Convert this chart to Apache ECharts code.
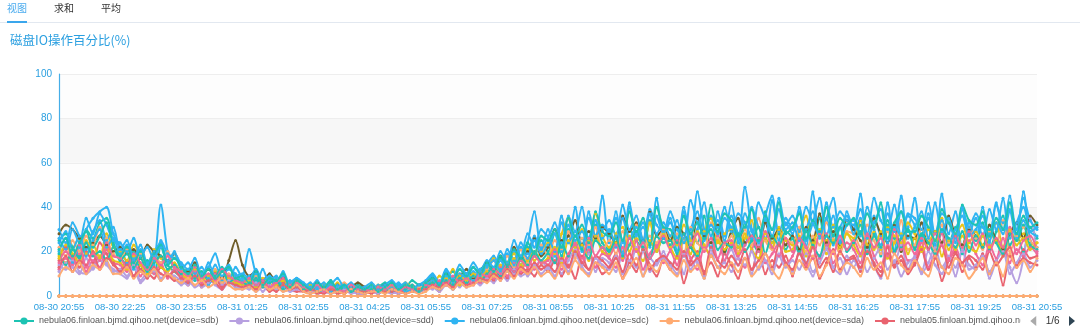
<!DOCTYPE html>
<html><head><meta charset="utf-8">
<script src="https://cdn.jsdelivr.net/npm/echarts@6/dist/echarts.min.js"></script>
<style>html,body{margin:0;padding:0;background:#fff}#c{width:1080px;height:330px}</style>
</head><body><div id="c"></div>
<script>
// time axis: 08-30 20:55 .. 08-31 20:55, one point every 10 minutes (145 points)
const startTime = '2023-08-30T20:55:00';
const stepMinutes = 10;
const pointCount = 145;
const tabLabels = ['视图', '求和', '平均'];
const chartTitle = '磁盘IO操作百分比(%)';
const hosts = ['nebula06', 'nebula05', 'nebula04', 'nebula03', 'nebula02', 'nebula01'];
const devices = ['sdb', 'sdd', 'sdc', 'sda'];

// ---- nebula06 ----
const n06_sdb = [25,28,22,18,30,26,33,35,24, 18,14,20,12,16,10,22,14,11, 9,12,7,10,6,8,11,7,5, 6,4,7,5,8,4,6,3,5, 3,5,2,4,6,3,2,4,5, 3,2,4,6,3,5,4,7,5, 6,9,5,8,11,7,10,8,12, 14,10,17,13,20,16,22,18,25, 20,28,18,30,22,26,19,32,24, 21,27,19,30,25,22,34,20,26, 23,31,18,28,24,36,21,27,19, 29,22,33,25,20,38,24,28,21, 26,19,30,23,35,22,27,31,20, 24,32,21,28,18,34,26,22,30, 22,27,35,20,29,24,31,19,28, 25,33,21,29,36,23,27,20,31, 26];
const n06_sdd = [14,12,16,11,10,13,18,15,12, 10,8,13,6,9,11,7,10,8, 5,7,4,6,8,5,3,6,4, 3,5,2,4,3,6,2,3,4, 2,3,1,2,4,2,3,1,2, 1,2,3,2,1,3,2,4,3, 4,3,6,5,8,4,7,6,9, 8,11,7,12,10,14,9,13,16, 12,18,10,16,21,14,19,11,17, 15,11,19,13,22,9,17,14,20, 12,18,10,24,15,8,19,13,16, 21,14,17,10,23,16,12,19,15, 11,20,15,9,18,22,13,17,10, 16,12,21,14,8,19,15,23,12, 18,10,15,22,13,17,9,20,14, 12,19,8,16,21,13,6,17,35, 20];
const n06_sdc = [20,26,15,22,30,35,38,40,28, 22,15,12,18,9,14,41,20,12, 10,6,13,8,5,11,7,9,6, 8,21,10,5,7,4,9,3,6, 4,2,5,3,7,2,4,3,2, 2,4,1,3,2,5,3,2,4, 5,8,4,7,3,9,6,11,8, 12,9,16,11,20,14,24,38,22, 30,18,36,24,40,20,35,27,45, 24,38,19,42,28,33,22,44,26, 35,20,40,25,47,30,22,38,27, 42,24,49,30,21,36,45,25,33, 28,40,22,47,26,35,44,24,38, 30,46,22,36,27,42,20,38,31, 44,25,35,23,46,28,38,21,33, 26,40,24,42,30,45,27,47,25, 22];
const n06_sda = [0,0,0,0,0,0,0,0,0,0, 0,0,0,0,0,0,0,0,0,0, 0,0,0,0,0,0,0,0,0,
 0,0,0,0,0,0,0,0,0,0, 0,0,0,0,0,0,0,0,0,0, 0,0,0,0,0,0,0,0,0,
 0,0,0,0,0,0,0,0,0,0, 0,0,0,0,0,0,0,0,0,0, 0,0,0,0,0,0,0,0,0,
 0,0,0,0,0,0,0,0,0,0, 0,0,0,0,0,0,0,0,0,0, 0,0,0,0,0,0,0,0,0,
 0,0,0,0,0,0,0,0,0,0, 0,0,0,0,0,0,0,0,0,0, 0,0,0,0,0,0,0,0,0];
// ---- nebula05 ----
const n05_sdb = [16,22,18,13,20,15,24,19,14, 12,16,9,14,11,8,13,10,7, 8,5,9,4,7,6,3,8,5, 4,6,3,5,2,4,6,3,2, 2,3,1,2,3,1,2,4,1, 1,2,1,3,2,1,2,3,2, 3,5,2,6,4,7,5,8,6, 9,7,11,8,13,10,12,9,14, 11,16,9,14,8,18,12,15,10, 13,19,8,15,11,21,14,9,17, 12,18,6,16,20,11,15,9,19, 14,8,17,12,22,10,16,13,18, 9,20,13,17,8,15,21,12,16, 18,11,23,14,9,19,13,16,10, 15,22,12,18,7,16,20,11,17, 13,19,10,16,5,18,14,21,17, 18];
const n05_sdd = [18,15,21,26,19,23,17,28,22, 20,16,23,18,13,21,17,15,19, 12,9,14,10,8,11,6,9,7, 5,7,4,8,6,3,5,4,6, 3,5,2,4,3,6,2,3,4, 2,3,5,2,4,3,6,4,3, 6,4,9,7,12,5,8,6,10, 13,17,11,15,19,14,21,16,20, 24,19,28,35,22,30,25,37,27, 22,28,31,20,26,24,33,21,29, 27,23,32,25,19,29,35,24,28, 30,22,26,34,21,28,24,31,25, 23,29,36,22,27,25,32,20,28, 26,34,23,29,21,31,27,24,33, 28,22,30,25,35,21,27,32,24, 29,23,27,33,22,30,25,28,23, 24];
const n05_sdc = [28,32,30,26,22,24,27,23,20, 22,19,21,17,23,20,18,16,19, 13,11,15,9,12,10,8,16,25, 14,9,11,7,10,6,8,5,7, 5,3,6,4,2,5,3,4,6, 4,2,3,5,3,2,4,3,5, 5,8,6,10,7,9,12,8,11, 15,12,18,14,22,17,20,26,18, 22,30,25,27,34,23,29,26,31, 28,24,36,29,33,25,38,27,30, 25,31,28,22,35,27,24,32,20, 29,35,24,27,21,33,26,30,23, 27,21,31,25,37,24,29,22,34, 30,25,22,35,28,24,32,20,27, 26,33,21,29,24,36,27,23,30, 27,22,32,25,21,28,33,26,36, 32];
const n05_sda = [0,0,0,0,0,0,0,0,0,0, 0,0,0,0,0,0,0,0,0,0, 0,0,0,0,0,0,0,0,0,
 0,0,0,0,0,0,0,0,0,0, 0,0,0,0,0,0,0,0,0,0, 0,0,0,0,0,0,0,0,0,
 0,0,0,0,0,0,0,0,0,0, 0,0,0,0,0,0,0,0,0,0, 0,0,0,0,0,0,0,0,0,
 0,0,0,0,0,0,0,0,0,0, 0,0,0,0,0,0,0,0,0,0, 0,0,0,0,0,0,0,0,0,
 0,0,0,0,0,0,0,0,0,0, 0,0,0,0,0,0,0,0,0,0, 0,0,0,0,0,0,0,0,0];
// ---- nebula04 ----
const n04_sdb = [12,17,14,19,11,16,13,21,15, 14,11,16,9,13,10,15,8,12, 9,7,11,6,8,10,5,7,9, 6,4,8,5,3,7,4,6,3, 3,2,4,3,5,2,3,2,4, 2,4,3,2,3,4,2,5,3, 4,6,3,7,5,8,4,9,6, 10,8,13,9,15,11,17,12,16, 14,20,12,18,24,15,21,13,19, 17,13,22,16,25,12,19,23,15, 20,14,26,17,12,22,18,27,16, 23,17,13,21,26,15,19,24,14, 18,25,14,22,17,28,15,20,24, 21,15,27,18,13,23,19,26,16, 17,24,13,20,28,16,22,14,25, 19,14,23,17,26,15,21,18,22, 19];
const n04_sdd = [22,18,25,20,27,23,31,26,19, 17,21,14,19,12,18,15,20,13, 11,8,13,9,7,12,6,10,8, 7,5,9,4,6,8,3,5,7, 4,2,5,3,2,4,6,3,2, 3,5,2,4,3,2,5,3,4, 5,7,4,8,6,10,7,9,11, 12,16,10,18,13,21,15,19,23, 18,25,21,29,17,26,23,31,20, 25,19,29,23,32,20,27,24,30, 22,28,19,31,24,21,33,26,23, 27,20,30,23,35,25,21,29,26, 24,31,20,27,23,33,26,19,29, 28,22,32,25,19,29,24,34,21, 23,30,26,20,32,24,28,22,31, 26,21,29,24,34,20,27,31,25, 22];
const n04_sdc = [30,24,33,27,21,29,34,25,31, 21,25,17,23,15,20,24,16,19, 14,10,12,8,15,9,11,7,13, 8,6,10,5,7,9,4,6,8, 5,3,4,6,2,5,3,4,3, 4,2,5,3,4,6,3,4,2, 6,9,5,11,7,10,8,13,9, 14,18,12,21,16,24,19,27,21, 26,20,33,24,29,22,38,27,32, 29,35,24,40,27,31,23,36,28, 33,26,38,23,30,42,27,34,25, 36,28,23,40,31,26,43,29,35, 30,38,25,33,44,27,36,24,32, 34,27,40,30,23,37,29,45,26, 31,38,26,42,29,35,24,40,28, 35,27,39,30,44,26,33,40,29, 27];
const n04_sda = [0,0,0,0,0,0,0,0,0,0, 0,0,0,0,0,0,0,0,0,0, 0,0,0,0,0,0,0,0,0,
 0,0,0,0,0,0,0,0,0,0, 0,0,0,0,0,0,0,0,0,0, 0,0,0,0,0,0,0,0,0,
 0,0,0,0,0,0,0,0,0,0, 0,0,0,0,0,0,0,0,0,0, 0,0,0,0,0,0,0,0,0,
 0,0,0,0,0,0,0,0,0,0, 0,0,0,0,0,0,0,0,0,0, 0,0,0,0,0,0,0,0,0,
 0,0,0,0,0,0,0,0,0,0, 0,0,0,0,0,0,0,0,0,0, 0,0,0,0,0,0,0,0,0];
// ---- nebula03 ----
const n03_sdb = [17,23,19,15,25,20,18,22,16, 15,12,18,14,10,16,13,11,15, 10,8,12,7,9,6,11,8,6, 5,7,4,6,3,5,7,4,5, 3,4,2,5,3,2,4,3,2, 2,3,4,2,5,3,2,4,3, 4,6,5,8,6,9,7,10,8, 11,9,14,12,17,13,16,20,15, 17,22,15,25,19,23,16,27,20, 19,24,17,27,21,16,25,20,28, 22,17,26,19,29,23,18,25,21, 24,19,28,21,17,26,22,30,20, 21,27,18,24,30,19,25,22,28, 23,18,26,21,29,17,24,28,19, 26,20,24,29,18,25,21,27,22, 20,27,22,25,18,29,23,26,21, 24];
const n03_sdd = [11,15,13,10,17,12,16,14,11, 12,9,14,7,11,13,8,10,9, 7,5,8,4,6,9,5,7,4, 4,3,6,2,5,3,4,2,3, 2,1,3,2,1,2,3,2,1, 1,2,1,3,2,1,3,2,2, 3,4,2,5,3,6,4,7,5, 8,6,10,7,12,9,11,14,10, 13,9,16,11,19,13,10,17,14, 12,18,10,16,13,20,11,15,17, 14,10,19,12,17,9,21,13,15, 11,17,14,20,12,16,10,18,13, 16,12,19,11,15,21,13,10,18, 13,19,11,17,22,12,16,9,15, 17,11,20,14,10,18,13,21,12, 14,18,11,16,20,10,15,19,13, 16];
const n03_sdc = [24,29,21,27,18,25,30,22,26, 19,23,16,21,14,18,22,15,20, 12,15,10,13,8,14,9,12,10, 7,9,5,12,6,8,4,7,5, 4,6,3,5,2,4,5,3,4, 3,4,2,5,3,4,2,3,5, 5,7,4,9,6,8,10,7,12, 13,16,11,19,14,22,17,25,19, 23,28,20,32,25,29,22,34,26, 30,22,35,26,31,24,37,28,33, 27,34,24,30,38,25,32,28,35, 31,26,37,29,24,34,27,39,30, 33,25,30,38,27,35,23,31,36, 28,35,26,33,39,24,31,27,36, 32,25,37,28,34,23,30,36,27, 30,36,25,33,28,38,26,34,29, 31];
const n03_sda = [0,0,0,0,0,0,0,0,0,0, 0,0,0,0,0,0,0,0,0,0, 0,0,0,0,0,0,0,0,0,
 0,0,0,0,0,0,0,0,0,0, 0,0,0,0,0,0,0,0,0,0, 0,0,0,0,0,0,0,0,0,
 0,0,0,0,0,0,0,0,0,0, 0,0,0,0,0,0,0,0,0,0, 0,0,0,0,0,0,0,0,0,
 0,0,0,0,0,0,0,0,0,0, 0,0,0,0,0,0,0,0,0,0, 0,0,0,0,0,0,0,0,0,
 0,0,0,0,0,0,0,0,0,0, 0,0,0,0,0,0,0,0,0,0, 0,0,0,0,0,0,0,0,0];
// ---- nebula02 ----
const n02_sdb = [19,14,21,17,24,18,20,16,22, 16,19,13,17,11,15,18,12,14, 10,12,8,11,7,9,13,6,8, 6,5,8,4,6,7,3,5,4, 3,4,2,3,5,2,4,2,3, 2,3,4,3,2,4,3,5,2, 4,6,3,7,5,8,6,9,7, 10,13,9,15,11,18,14,20,16, 19,15,24,18,27,21,17,25,22, 20,26,18,23,29,21,17,27,24, 25,19,28,22,18,26,30,21,24, 22,28,20,25,31,19,27,23,29, 26,20,29,23,18,27,24,31,21, 24,29,19,27,22,32,20,26,30, 21,28,24,19,30,26,22,29,20, 27,22,30,24,19,28,25,32,23, 21];
const n02_sdd = [13,18,11,16,14,20,12,17,15, 11,14,9,12,8,13,10,9,11, 8,6,9,5,7,8,4,6,5, 4,5,3,6,4,2,5,3,4, 2,3,2,1,3,2,1,3,2, 2,1,3,2,2,3,1,2,3, 3,5,4,6,4,7,5,6,8, 7,10,8,12,9,13,11,15,12, 14,11,17,13,20,15,12,18,16, 13,17,11,19,14,21,12,16,18, 15,12,20,14,17,10,22,16,13, 18,14,21,12,16,19,13,23,15, 12,19,15,22,13,17,11,20,16, 17,13,20,15,11,22,14,18,12, 14,21,12,17,23,13,19,15,18, 16,12,20,14,18,22,13,17,15, 14];
const n02_sdc = [26,21,30,24,35,28,37,32,25, 24,20,26,18,22,16,25,19,17, 15,12,17,10,13,19,11,14,9, 10,8,12,7,9,6,11,5,8, 6,4,7,3,5,8,4,6,3, 4,6,3,5,7,4,6,3,5, 7,10,6,12,8,14,10,15,11, 16,13,20,15,25,18,28,22,30, 27,33,24,36,29,40,26,34,30, 34,27,41,30,36,25,39,32,29, 38,30,26,43,33,28,36,31,40, 29,37,33,26,42,35,30,44,32, 36,29,40,33,27,42,31,38,34, 32,39,28,44,34,30,41,27,37, 35,30,42,28,37,33,26,39,31, 37,31,28,41,33,39,30,44,34, 30];
const n02_sda = [0,0,0,0,0,0,0,0,0,0, 0,0,0,0,0,0,0,0,0,0, 0,0,0,0,0,0,0,0,0,
 0,0,0,0,0,0,0,0,0,0, 0,0,0,0,0,0,0,0,0,0, 0,0,0,0,0,0,0,0,0,
 0,0,0,0,0,0,0,0,0,0, 0,0,0,0,0,0,0,0,0,0, 0,0,0,0,0,0,0,0,0,
 0,0,0,0,0,0,0,0,0,0, 0,0,0,0,0,0,0,0,0,0, 0,0,0,0,0,0,0,0,0,
 0,0,0,0,0,0,0,0,0,0, 0,0,0,0,0,0,0,0,0,0, 0,0,0,0,0,0,0,0,0];
// ---- nebula01 ----
const n01_sdb = [15,20,17,23,13,19,16,24,18, 17,13,19,15,12,17,14,18,13, 11,9,13,8,10,7,12,9,7, 6,8,5,7,4,6,8,5,6, 4,3,5,2,4,3,2,5,3, 3,2,4,3,5,2,4,3,2, 5,4,7,5,9,6,8,5,10, 9,12,10,14,11,16,13,18,15, 16,21,14,19,23,17,26,18,22, 18,23,16,26,20,24,17,22,27, 21,25,18,23,28,20,26,17,24, 25,18,23,27,20,29,22,18,26, 20,26,22,17,28,23,19,27,21, 25,19,28,22,26,18,30,21,24, 19,26,21,28,23,17,27,22,29, 23,28,20,26,22,31,19,25,27, 20];
const n01_sdd = [9,13,11,15,10,14,12,16,10, 10,13,8,11,9,12,7,10,8, 6,8,5,7,4,6,8,5,3, 3,4,2,5,3,4,2,3,5, 2,1,2,3,1,2,1,3,2, 1,2,2,1,3,2,1,2,1, 2,4,3,5,3,6,4,5,7, 6,9,7,11,8,12,10,13,9, 11,8,14,10,16,12,9,15,13, 10,15,8,13,17,9,14,11,16, 12,9,16,11,14,8,18,13,10, 15,11,17,9,13,19,12,8,14, 10,16,12,18,9,14,20,11,15, 13,9,17,12,15,8,19,14,11, 16,12,9,18,13,10,17,14,8, 12,17,10,15,9,19,13,16,11, 17];
const n01_sdc = [21,26,18,24,29,22,27,33,23, 18,22,15,20,13,19,23,14,17, 13,10,14,9,12,8,11,13,8, 9,6,11,5,8,7,10,4,7, 5,3,6,4,7,3,5,2,4, 3,5,2,4,6,3,5,4,2, 6,8,5,10,7,12,9,13,10, 15,11,18,14,21,17,24,19,27, 25,30,22,35,27,32,24,38,29, 27,33,25,38,29,35,23,40,31, 30,24,36,28,33,26,41,29,37, 34,27,31,39,25,36,30,42,28, 31,37,26,34,29,40,27,35,32, 35,28,37,31,42,26,33,38,29, 29,36,31,25,39,33,28,41,34, 32,38,27,35,30,42,28,36,31, 33];
const n01_sda = [0,0,0,0,0,0,0,0,0,0, 0,0,0,0,0,0,0,0,0,0, 0,0,0,0,0,0,0,0,0,
 0,0,0,0,0,0,0,0,0,0, 0,0,0,0,0,0,0,0,0,0, 0,0,0,0,0,0,0,0,0,
 0,0,0,0,0,0,0,0,0,0, 0,0,0,0,0,0,0,0,0,0, 0,0,0,0,0,0,0,0,0,
 0,0,0,0,0,0,0,0,0,0, 0,0,0,0,0,0,0,0,0,0, 0,0,0,0,0,0,0,0,0,
 0,0,0,0,0,0,0,0,0,0, 0,0,0,0,0,0,0,0,0,0, 0,0,0,0,0,0,0,0,0];

const seriesValues = {
  nebula06: {sdb: n06_sdb, sdd: n06_sdd, sdc: n06_sdc, sda: n06_sda},
  nebula05: {sdb: n05_sdb, sdd: n05_sdd, sdc: n05_sdc, sda: n05_sda},
  nebula04: {sdb: n04_sdb, sdd: n04_sdd, sdc: n04_sdc, sda: n04_sda},
  nebula03: {sdb: n03_sdb, sdd: n03_sdd, sdc: n03_sdc, sda: n03_sda},
  nebula02: {sdb: n02_sdb, sdd: n02_sdd, sdc: n02_sdc, sda: n02_sda},
  nebula01: {sdb: n01_sdb, sdd: n01_sdd, sdc: n01_sdc, sda: n01_sda}
};
// one colour per series, in series order
const seriesColors = [
  '#1dc3b3','#b7a0e0','#2fb4f2','#ffab72',
  '#e9636f','#e8c418','#6f5e2a','#f06a9a',
  '#f06a9a','#ffab72','#2fb4f2','#1dc3b3',
  '#e8c418','#b7a0e0','#2fb4f2','#e9636f',
  '#1dc3b3','#e9636f','#2fb4f2','#e8c418',
  '#f06a9a','#ffab72','#1dc3b3','#ffab72'
];

function pad(n){return (n<10?'0':'')+n;}
const categories = [];
{
  const t0 = new Date(startTime).getTime();
  for (let i = 0; i < pointCount; i++) {
    const d = new Date(t0 + i * stepMinutes * 60000);
    categories.push(pad(d.getMonth()+1)+'-'+pad(d.getDate())+' '+pad(d.getHours())+':'+pad(d.getMinutes()));
  }
}

const series = [];
let idx = 0;
hosts.forEach(h => devices.forEach(dv => {
  const c = seriesColors[idx];
  const isOrangeSda = dv === 'sda' && c === '#ffab72';
  series.push({
    name: h + '.finloan.bjmd.qihoo.net(device=' + dv + ')',
    type: 'line',
    data: seriesValues[h][dv],
    smooth: 0.3,
    symbol: 'circle',
    symbolSize: 3,
    showSymbol: true,
    showAllSymbol: true,
    itemStyle: {color: c},
    lineStyle: {width: 2, color: c},
    z: isOrangeSda ? 4 : (dv === 'sda' ? 3 : 2)
  });
  idx++;
}));

const blue = '#2a9fe0';
const sans = '"Liberation Sans", Arial, sans-serif';
const chart = echarts.init(document.getElementById('c'), null, {renderer: 'canvas'});
chart.setOption({
  animation: false,
  textStyle: {fontFamily: sans},
  graphic: [
    {type: 'line', shape: {x1: 0, y1: 22.5, x2: 1080, y2: 22.5}, style: {stroke: '#e2e8f0', lineWidth: 1}},
    {type: 'line', shape: {x1: 7, y1: 22, x2: 27, y2: 22}, style: {stroke: '#3aa6ec', lineWidth: 2}},
    {type: 'text', left: 7, top: 3, style: {text: tabLabels[0], fill: '#4aabee', font: '10px "Noto Sans CJK SC"'}},
    {type: 'text', left: 54, top: 3, style: {text: tabLabels[1], fill: '#333', font: '10px "Noto Sans CJK SC"'}},
    {type: 'text', left: 101, top: 3, style: {text: tabLabels[2], fill: '#333', font: '10px "Noto Sans CJK SC"'}},
    {type: 'text', left: 10, top: 34, style: {text: chartTitle, fill: blue, font: '12.5px "Noto Sans CJK SC"'}}
  ],
  grid: {left: 59, right: 43, top: 74, bottom: 34, containLabel: false},
  legend: {
    type: 'scroll', left: 8, right: 2, top: 311,
    itemWidth: 20, itemHeight: 9, itemGap: 10,
    textStyle: {color: '#555', fontSize: 9, fontFamily: sans},
    pageIconSize: 10, pageIconColor: '#2f4554', pageIconInactiveColor: '#aaa',
    pageTextStyle: {color: '#333', fontSize: 10}
  },
  xAxis: {
    type: 'category', boundaryGap: false, data: categories,
    axisLine: {lineStyle: {color: '#45aee8', width: 1}},
    axisTick: {show: false},
    axisLabel: {color: blue, fontSize: 9.5, interval: 8, margin: 6, fontFamily: sans}
  },
  yAxis: {
    type: 'value', min: 0, max: 100, interval: 20,
    axisLine: {show: true, lineStyle: {color: '#45aee8', width: 1.2}},
    axisTick: {show: false},
    axisLabel: {color: blue, fontSize: 10, margin: 7, fontFamily: sans},
    splitLine: {lineStyle: {color: '#eeeeee'}},
    splitArea: {show: true, areaStyle: {color: ['#fdfdfd', '#f7f7f7']}}
  },
  series: series
});
</script>
</body></html>
